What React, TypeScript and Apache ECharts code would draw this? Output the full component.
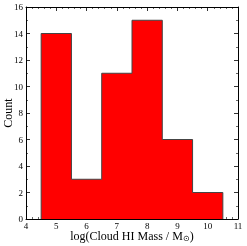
import React, { useEffect, useRef } from "react";
import * as echarts from "echarts";

const binEdges = [4.5, 5.5, 6.5, 7.5, 8.5, 9.5, 10.5];
const counts = [14, 3, 11, 15, 6, 2];
const xTicks = [4, 5, 6, 7, 8, 9, 10, 11];
const yTicks = [0, 2, 4, 6, 8, 10, 12, 14, 16];

const FONT = "Liberation Serif";

export default function App() {
  const ref = useRef<HTMLDivElement>(null);
  useEffect(() => {
    if (!ref.current) return;
    const chart = echarts.init(ref.current, undefined, { renderer: "svg" });
    const pts: number[][] = [[binEdges[0], 0]];
    counts.forEach((c, i) => {
      pts.push([binEdges[i], c]);
      pts.push([binEdges[i + 1], c]);
    });
    pts.push([binEdges[binEdges.length - 1], 0]);

    const axisCommon = {
      type: "value" as const,
      axisLine: { show: true, onZero: false, lineStyle: { color: "#000", width: 1 } },
      axisTick: { show: true, inside: true, length: 4, lineStyle: { color: "#000", width: 0.8 } },
      minorTick: { show: true, length: 2, lineStyle: { color: "#000", width: 0.6 } },
      splitLine: { show: false },
    };
    const xCommon = {
      ...axisCommon,
      min: xTicks[0],
      max: xTicks[xTicks.length - 1],
      interval: 1,
      minorTick: { ...axisCommon.minorTick, splitNumber: 5 },
    };
    const yCommon = {
      ...axisCommon,
      min: yTicks[0],
      max: yTicks[yTicks.length - 1],
      interval: 2,
      minorTick: { ...axisCommon.minorTick, splitNumber: 2 },
    };

    chart.setOption({
      animation: false,
      grid: { left: 26, right: 9, top: 7, bottom: 27, containLabel: false, outerBoundsMode: "none" },
      xAxis: [
        {
          ...xCommon,
          position: "bottom",
          axisLabel: { color: "#000", fontFamily: FONT, fontSize: 9, lineHeight: 9, margin: 2, showMaxLabel: true, showMinLabel: true },
          name: "log(Cloud HI Mass / M{sub|⊙})",
          nameLocation: "middle",
          nameGap: 11,
          nameMoveOverlap: false,
          nameTextStyle: {
            color: "#000",
            fontFamily: FONT,
            fontSize: 12,
            lineHeight: 12,
            rich: { sub: { fontFamily: FONT, fontSize: 8, lineHeight: 12, verticalAlign: "bottom", color: "#000" } },
          },
        },
        { ...xCommon, position: "top", axisLabel: { show: false } },
      ],
      yAxis: [
        {
          ...yCommon,
          position: "left",
          axisLabel: { color: "#000", fontFamily: FONT, fontSize: 9, margin: 3, showMaxLabel: true, showMinLabel: true },
          name: "Count",
          nameLocation: "middle",
          nameGap: 12,
          nameMoveOverlap: false,
          nameTextStyle: { color: "#000", fontFamily: FONT, fontSize: 12 },
        },
        { ...yCommon, position: "right", axisLabel: { show: false } },
      ],
      series: [
        {
          type: "line",
          data: pts,
          showSymbol: false,
          symbol: "none",
          lineStyle: { color: "#444", width: 1 },
          areaStyle: { color: "#ff0000", opacity: 1, origin: "start" },
          z: 1,
        },
      ],
    });
    return () => chart.dispose();
  }, []);
  return <div ref={ref} style={{ position: "fixed", left: 0, top: 0, width: 247, height: 246 }} />;
}
